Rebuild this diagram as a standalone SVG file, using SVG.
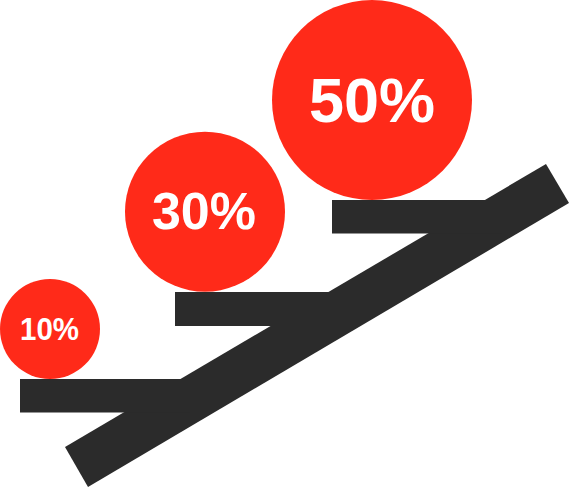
<svg xmlns="http://www.w3.org/2000/svg" width="571" height="487" viewBox="0 0 571 487">
<style>
.bar{fill:#2b2b2b}
.ball{fill:#ff2a19}
.lbl{fill:#ffffff;font-family:"Liberation Sans",Arial,sans-serif;font-weight:bold;text-anchor:middle}
</style>
<rect width="571" height="487" fill="#ffffff"/>
<g id="stairs">
<polygon class="bar" points="65,447 546,164 569,203 88,487"/>
<rect class="bar" x="20" y="379" width="170" height="33.5"/>
<rect class="bar" x="175" y="292" width="170" height="34"/>
<rect class="bar" x="332" y="200" width="170" height="33.5"/>
</g>
<g id="node-10">
<circle class="ball" cx="50" cy="329" r="50"/>
<text class="lbl" x="49.5" y="340" font-size="32" textLength="59" lengthAdjust="spacingAndGlyphs">10%</text>
</g>
<g id="node-30">
<circle class="ball" cx="205" cy="211.7" r="80"/>
<text class="lbl" x="204" y="229" font-size="52">30%</text>
</g>
<g id="node-50">
<circle class="ball" cx="372" cy="100" r="100"/>
<text class="lbl" x="372" y="121.7" font-size="63">50%</text>
</g>
</svg>
